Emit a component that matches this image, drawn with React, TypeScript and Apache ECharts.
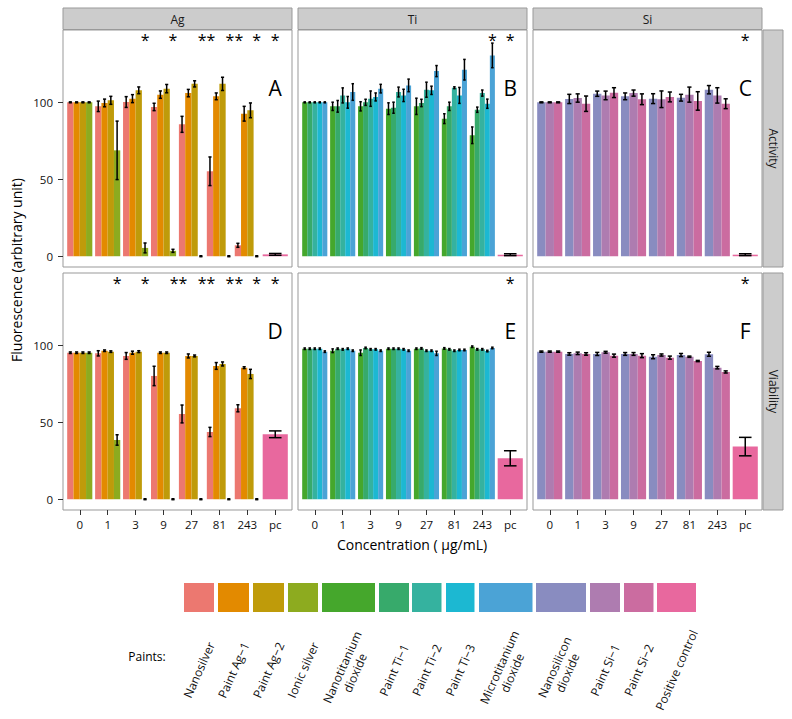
import React, { useEffect, useRef } from "react";
import * as echarts from "echarts";

// ---------- data ----------
const concentrations = ["0", "1", "3", "9", "27", "81", "243", "pc"];

const paintNames = [
  "Nanosilver",
  "Paint Ag\u22121",
  "Paint Ag\u22122",
  "Ionic silver",
  "Nanotitanium\ndioxide",
  "Paint Ti\u22121",
  "Paint Ti\u22122",
  "Paint Ti\u22123",
  "Microtitanium\ndioxide",
  "Nanosilicon\ndioxide",
  "Paint Si\u22121",
  "Paint Si\u22122",
  "Positive control",
];
const paintColors = [
  "#EC7870", "#E38A00", "#BF9B0A", "#8DAB1F", "#45A72C", "#37AA6B", "#35B29F",
  "#1CB8D2", "#4BA3D6", "#898CC0", "#AE7CB0", "#CB6CA0", "#E8689E",
];

// rows: paints, columns: concentrations 0..243
const agActivity = [
  [100, 97.4, 100.2, 97.0, 85.7, 55.2, 7.1],
  [100, 99.6, 102.4, 105.0, 106.0, 103.9, 92.6],
  [100, 101.3, 107.8, 108.9, 112.0, 112.0, 94.8],
  [100, 68.8, 5.4, 3.5, 0, 0, 0],
];
const agActivityErr = [
  [0.3, 3.4, 3.5, 2.4, 5.2, 9.3, 1.3],
  [0.3, 2.5, 2.6, 2.4, 2.4, 2.2, 4.8],
  [0.3, 2.6, 2.2, 2.7, 2.0, 4.3, 4.8],
  [0.3, 19.0, 3.2, 1.0, 0.3, 0.3, 0.3],
];
const tiActivity = [
  [100, 97.4, 97.4, 95.9, 97.4, 89.4, 78.6],
  [100, 97.4, 100.0, 96.5, 99.6, 97.4, 95.2],
  [100, 104.5, 102.4, 106.7, 108.2, 109.5, 106.0],
  [100, 100.0, 103.5, 104.5, 107.8, 104.5, 99.1],
  [100, 106.7, 108.9, 111.0, 120.3, 121.2, 130.5],
];
const tiActivityErr = [
  [0.3, 2.7, 3.0, 3.8, 5.3, 3.2, 5.4],
  [0.3, 3.8, 2.0, 3.6, 2.4, 2.7, 1.7],
  [0.3, 4.9, 5.0, 3.2, 4.9, 0.6, 2.0],
  [0.3, 3.8, 2.6, 4.0, 2.7, 5.2, 3.0],
  [0.3, 5.4, 2.8, 4.1, 3.6, 6.7, 8.0],
];
const siActivity = [
  [100, 102.2, 105.6, 103.9, 102.4, 103.0, 108.2],
  [100, 102.8, 104.5, 106.0, 102.0, 105.0, 104.5],
  [100, 99.1, 106.3, 102.0, 103.5, 100.9, 99.1],
];
const siActivityErr = [
  [0.3, 3.0, 1.7, 2.2, 3.2, 2.2, 2.7],
  [0.3, 2.7, 2.8, 2.0, 5.4, 4.9, 5.0],
  [0.3, 5.0, 3.2, 3.5, 3.2, 6.0, 3.2],
];
const agViability = [
  [95.2, 94.8, 93.1, 80.1, 55.4, 43.7, 59.1],
  [95.2, 96.5, 95.2, 95.2, 93.1, 86.6, 85.5],
  [95.2, 95.9, 95.9, 95.2, 93.1, 87.9, 81.4],
  [95.2, 38.5, 0, 0, 0, 0, 0],
];
const agViabilityErr = [
  [0.5, 1.7, 2.2, 6.3, 5.8, 3.0, 2.3],
  [0.5, 0.5, 1.0, 0.5, 1.3, 2.2, 0.6],
  [0.5, 0.5, 0.6, 0.5, 0.6, 1.3, 3.0],
  [0.5, 3.4, 0.3, 0.3, 0.3, 0.3, 0.3],
];
const tiViability = [
  [97.8, 96.5, 95.2, 97.8, 97.8, 98.0, 99.1],
  [97.8, 97.8, 98.3, 97.8, 98.0, 97.4, 97.4],
  [97.8, 97.4, 97.4, 97.8, 96.5, 96.5, 97.4],
  [97.8, 97.8, 97.4, 97.4, 96.5, 97.0, 96.3],
  [95.9, 96.5, 96.5, 96.5, 94.8, 97.0, 98.3],
];
const tiViabilityErr = [
  [0.5, 1.2, 1.8, 0.5, 0.5, 0.5, 0.5],
  [0.5, 0.5, 0.5, 0.5, 0.5, 0.5, 0.5],
  [0.5, 0.5, 0.5, 0.5, 0.5, 0.5, 0.5],
  [0.5, 0.5, 0.5, 0.5, 0.5, 0.5, 0.5],
  [0.5, 0.5, 0.5, 0.5, 1.4, 0.5, 0.5],
];
const siViability = [
  [95.9, 94.4, 94.4, 94.4, 92.6, 93.7, 94.2],
  [95.9, 94.8, 95.5, 94.4, 93.7, 92.6, 85.5],
  [95.9, 94.4, 93.3, 93.3, 92.0, 89.8, 82.7],
];
const siViabilityErr = [
  [0.4, 0.8, 1.0, 0.9, 1.3, 1.0, 1.3],
  [0.4, 0.8, 0.6, 0.9, 0.7, 0.4, 0.8],
  [0.4, 0.8, 1.0, 1.3, 1.0, 0.4, 0.7],
];
// positive control per column (Ag, Ti, Si)
const pcActivity = [1.2, 1.0, 1.0];
const pcActivityErr = [0.6, 0.6, 0.6];
const pcViability = [42.2, 26.6, 34.2];
const pcViabilityErr = [2.2, 4.9, 6.0];

// significance marks per concentration
const agActivityStars = ["", "", "*", "*", "**", "**", "*", "*"];
const tiActivityStars = ["", "", "", "", "", "", "*", "*"];
const siActivityStars = ["", "", "", "", "", "", "", "*"];
const agViabilityStars = ["", "*", "*", "**", "**", "**", "*", "*"];
const tiViabilityStars = ["", "", "", "", "", "", "", "*"];
const siViabilityStars = ["", "", "", "", "", "", "", "*"];

const elements = ["Ag", "Ti", "Si"];
const measures = ["Activity", "Viability"];
const panelLetters = ["A", "B", "C", "D", "E", "F"];
const yTicks = [0, 50, 100];

// ---------- layout ----------
const FONT = "Open Sans";
const colLeft = [63, 298, 533];
const rowTop = [30, 273];
const panelW = 229;
const panelH = 237;
const starLevel = 140.5;
const letterLevel = 109.5;

const legendX = [184, 218, 253, 288, 322, 379, 412, 446, 479, 536, 590, 624, 657];
const legendW = [30, 31, 31, 30, 53, 30, 29.5, 28.5, 53.5, 50, 30, 29.5, 39];

type Panel = {
  row: number; col: number; means: number[][]; errs: number[][];
  colorStart: number; pcMean: number; pcErr: number; stars: string[];
};

const panels: Panel[] = [
  { row: 0, col: 0, means: agActivity, errs: agActivityErr, colorStart: 0, pcMean: pcActivity[0], pcErr: pcActivityErr[0], stars: agActivityStars },
  { row: 0, col: 1, means: tiActivity, errs: tiActivityErr, colorStart: 4, pcMean: pcActivity[1], pcErr: pcActivityErr[1], stars: tiActivityStars },
  { row: 0, col: 2, means: siActivity, errs: siActivityErr, colorStart: 9, pcMean: pcActivity[2], pcErr: pcActivityErr[2], stars: siActivityStars },
  { row: 1, col: 0, means: agViability, errs: agViabilityErr, colorStart: 0, pcMean: pcViability[0], pcErr: pcViabilityErr[0], stars: agViabilityStars },
  { row: 1, col: 1, means: tiViability, errs: tiViabilityErr, colorStart: 4, pcMean: pcViability[1], pcErr: pcViabilityErr[1], stars: tiViabilityStars },
  { row: 1, col: 2, means: siViability, errs: siViabilityErr, colorStart: 9, pcMean: pcViability[2], pcErr: pcViabilityErr[2], stars: siViabilityStars },
];

function renderBar(_params: any, api: any) {
  const c = api.value(0);
  const j = api.value(1);
  const n = api.value(2);
  const v = api.value(3);
  const e = api.value(4);
  const ci = api.value(5);
  const gw = 0.9;
  const w = gw / n;
  const xa = c - gw / 2 + j * w;
  const xb = xa + w;
  const pTop = api.coord([xa, v]);
  const pBase = api.coord([xb, 0]);
  const left = pTop[0];
  const right = pBase[0];
  const xc = (left + right) / 2;
  const half = (right - left) * 0.25;
  const yHi = api.coord([xa, v + e])[1];
  const yLo = api.coord([xa, v - e])[1];
  const ls = { stroke: "#000", lineWidth: 1.5 };
  return {
    type: "group",
    children: [
      { type: "rect", shape: { x: left, y: pTop[1], width: right - left, height: pBase[1] - pTop[1] }, style: { fill: paintColors[ci] } },
      { type: "line", shape: { x1: xc, y1: yHi, x2: xc, y2: yLo }, style: ls },
      { type: "line", shape: { x1: xc - half, y1: yHi, x2: xc + half, y2: yHi }, style: ls },
      { type: "line", shape: { x1: xc - half, y1: yLo, x2: xc + half, y2: yLo }, style: ls },
    ],
  };
}

function buildOption() {
  const grid: any[] = [];
  const xAxis: any[] = [];
  const yAxis: any[] = [];
  const series: any[] = [];
  const graphic: any[] = [];

  panels.forEach((p, i) => {
    grid.push({
      left: colLeft[p.col], top: rowTop[p.row], width: panelW, height: panelH,
      show: true, borderColor: "#999", borderWidth: 1, backgroundColor: "#fff",
    });
    const bottom = p.row === 1;
    const leftCol = p.col === 0;
    xAxis.push({
      type: "value", gridIndex: i, min: -0.6, max: 7.6, position: "bottom",
      splitLine: { show: false }, axisLine: { show: false, onZero: false },
      axisTick: { show: bottom, customValues: [0, 1, 2, 3, 4, 5, 6, 7], length: 5, lineStyle: { color: "#333", width: 1 } },
      axisLabel: {
        show: bottom, customValues: [0, 1, 2, 3, 4, 5, 6, 7],
        formatter: (v: number) => concentrations[Math.round(v)] ?? "",
        fontSize: 11.5, color: "#111", margin: 8, fontFamily: FONT,
      },
    });
    yAxis.push({
      type: "value", gridIndex: i, min: -7, max: 147, position: "left",
      splitLine: { show: false }, axisLine: { show: false, onZero: false },
      axisTick: { show: leftCol, customValues: yTicks, length: 5, lineStyle: { color: "#333", width: 1 } },
      axisLabel: { show: leftCol, customValues: yTicks, fontSize: 11.5, color: "#111", margin: 10, fontFamily: FONT },
    });

    const n = p.means.length;
    const data: number[][] = [];
    p.means.forEach((row, j) =>
      row.forEach((v, c) => data.push([c, j, n, v, p.errs[j][c], p.colorStart + j]))
    );
    data.push([7, 0, 1, p.pcMean, p.pcErr, 12]);
    series.push({
      type: "custom", xAxisIndex: i, yAxisIndex: i, data, clip: false, silent: true,
      renderItem: renderBar,
    });

    const annLabels: string[] = [];
    const annData: number[][] = [];
    p.stars.forEach((s, c) => {
      if (!s) return;
      const nb = c === 7 ? 1 : n;
      const dx = 0.45 - 0.45 / nb + (s.length > 1 ? 0.2 : 0);
      annData.push([c + dx, starLevel, 16]);
      annLabels.push(s);
    });
    annData.push([7, letterLevel, 21]);
    annLabels.push(panelLetters[i]);
    series.push({
      type: "custom", xAxisIndex: i, yAxisIndex: i, data: annData, clip: false, silent: true,
      renderItem: (params: any, api: any) => {
        const pt = api.coord([api.value(0), api.value(1)]);
        return {
          type: "text",
          style: {
            text: annLabels[params.dataIndex], x: pt[0], y: pt[1],
            align: "center", verticalAlign: "middle",
            fontSize: api.value(2), fontFamily: FONT, fill: "#000",
          },
        };
      },
    });
  });

  // top strips
  elements.forEach((el, c) => {
    graphic.push({
      type: "rect", shape: { x: colLeft[c], y: 8, width: panelW, height: 21.5 },
      style: { fill: "#cccccc", stroke: "#999", lineWidth: 1 },
    });
    graphic.push({
      type: "text", x: colLeft[c] + panelW / 2, y: 19,
      style: { text: el, align: "center", verticalAlign: "middle", fontSize: 12, fontFamily: FONT, fill: "#1a1a1a" },
    });
  });
  // right strips
  measures.forEach((m, r) => {
    graphic.push({
      type: "rect", shape: { x: 763, y: rowTop[r], width: 20, height: panelH },
      style: { fill: "#cccccc", stroke: "#999", lineWidth: 1 },
    });
    graphic.push({
      type: "text", x: 773, y: rowTop[r] + panelH / 2, rotation: -Math.PI / 2,
      style: { text: m, align: "center", verticalAlign: "middle", fontSize: 12, fontFamily: FONT, fill: "#1a1a1a" },
    });
  });
  // axis titles
  graphic.push({
    type: "text", x: 16, y: 270, rotation: Math.PI / 2,
    style: { text: "Fluorescence (arbitrary unit)", align: "center", verticalAlign: "middle", fontSize: 14, fontFamily: FONT, fill: "#000" },
  });
  graphic.push({
    type: "text", x: 412, y: 544,
    style: { text: "Concentration ( \u03bcg/mL)", align: "center", verticalAlign: "middle", fontSize: 14, fontFamily: FONT, fill: "#000" },
  });
  // legend
  graphic.push({
    type: "text", x: 147, y: 656,
    style: { text: "Paints:", align: "center", verticalAlign: "middle", fontSize: 12, fontFamily: FONT, fill: "#000" },
  });
  paintNames.forEach((name, k) => {
    graphic.push({
      type: "rect", shape: { x: legendX[k], y: 583, width: legendW[k], height: 29 },
      style: { fill: paintColors[k] },
    });
    graphic.push({
      type: "text", x: legendX[k] + legendW[k] / 2, y: 670, rotation: (66 * Math.PI) / 180,
      style: { text: name, align: "center", verticalAlign: "middle", fontSize: 12, lineHeight: 14, fontFamily: FONT, fill: "#111" },
    });
  });

  return {
    animation: false,
    backgroundColor: "#fff",
    textStyle: { fontFamily: FONT },
    grid, xAxis, yAxis, series, graphic,
  };
}

export default function App() {
  const ref = useRef<HTMLDivElement>(null);
  useEffect(() => {
    if (!ref.current) return;
    const chart = echarts.init(ref.current, null, { renderer: "svg" });
    chart.setOption(buildOption() as any);
    return () => chart.dispose();
  }, []);
  return (
    <div
      ref={ref}
      style={{ position: "absolute", left: 0, top: 0, width: 792, height: 719, background: "#fff" }}
    />
  );
}
